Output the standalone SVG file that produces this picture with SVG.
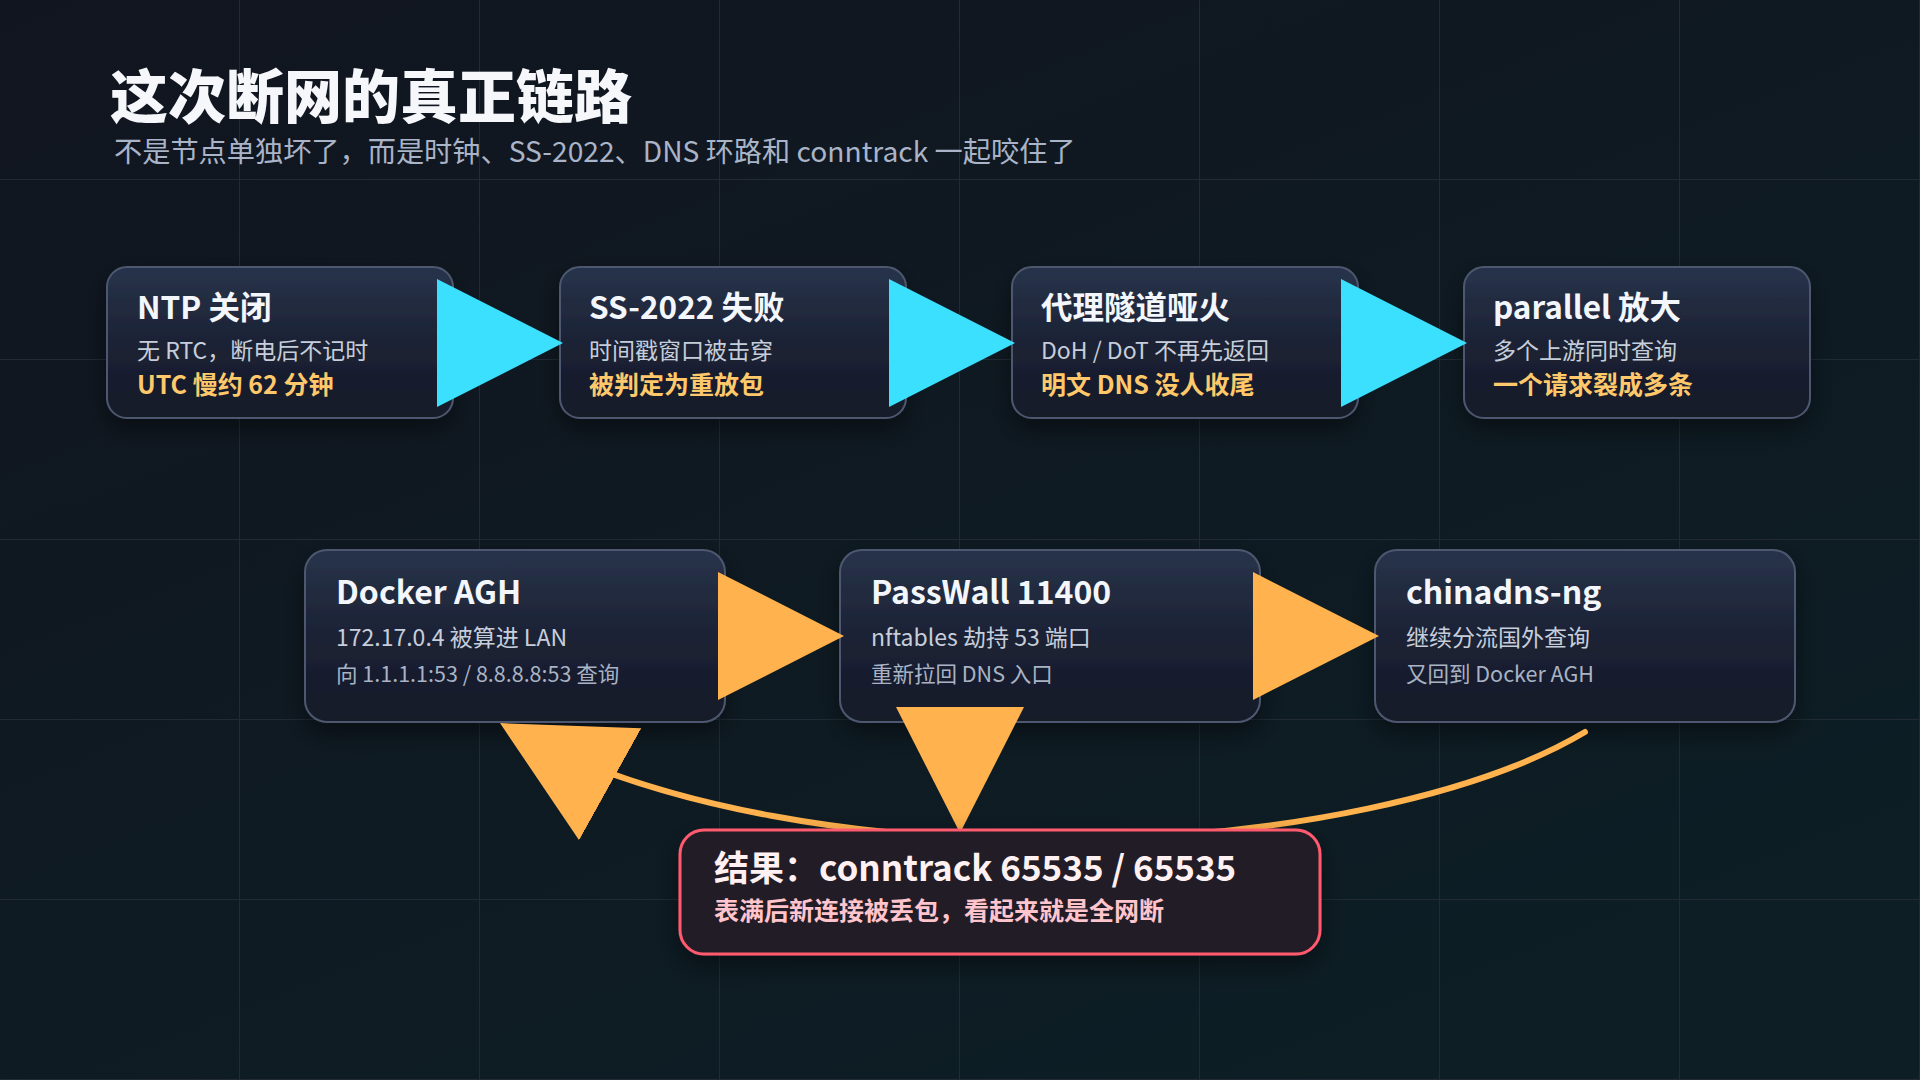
<svg xmlns="http://www.w3.org/2000/svg" width="1920" height="1080" viewBox="0 0 1920 1080">
<defs>
<linearGradient id="bg" x1="0" y1="0" x2="0.7" y2="1">
<stop offset="0" stop-color="#11151f"/>
<stop offset="1" stop-color="#0d1e25"/>
</linearGradient>
<linearGradient id="nodeFill" x1="0" y1="0" x2="0" y2="1">
<stop offset="0" stop-color="#28334a"/>
<stop offset="0.55" stop-color="#1b2133"/>
<stop offset="1" stop-color="#151a28"/>
</linearGradient>
<pattern id="grid" x="0" y="0" width="240" height="180" patternUnits="userSpaceOnUse">
<path d="M240,0 V180 M0,180 H240" fill="none" stroke="#212a36" stroke-width="2"/>
</pattern>
<filter id="shadow" x="-20%" y="-20%" width="140%" height="160%">
<feDropShadow dx="0" dy="10" stdDeviation="12" flood-color="#000" flood-opacity="0.45"/>
</filter>
<marker id="arrowCyan" viewBox="0 0 126 128" markerWidth="126" markerHeight="128" refX="118" refY="64" orient="auto" markerUnits="userSpaceOnUse">
<path d="M0,0 L126,64 L0,128 z" fill="#3ae0fd"/>
</marker>
<marker id="arrowOrange" viewBox="0 0 126 128" markerWidth="126" markerHeight="128" refX="118" refY="64" orient="auto" markerUnits="userSpaceOnUse">
<path d="M0,0 L126,64 L0,128 z" fill="#ffb24d"/>
</marker>
<style>
text { font-family: "Noto Sans CJK SC", "Noto Sans", sans-serif; }
.title { font-size: 58px; font-weight: 900; fill: #f5f7fb; }
.subtitle { font-size: 28.2px; fill: #a9b4c8; }
.box { fill: url(#nodeFill); stroke: #4d586f; stroke-width: 2; filter: url(#shadow); }
.h1 { font-size: 31.5px; font-weight: 700; fill: #f3f6fb; }
.h2 { font-size: 32px; font-weight: 700; fill: #f3f6fb; }
.t2 { font-size: 23px; fill: #c6cedb; }
.t3 { font-size: 25px; font-weight: 700; fill: #ffc96b; }
.t4 { font-size: 21.5px; fill: #a9b3c4; }
.cyan { stroke: #3ae0fd; stroke-width: 6; fill: none; marker-end: url(#arrowCyan); }
.orange { stroke: #ffb24d; stroke-width: 6; fill: none; marker-end: url(#arrowOrange); stroke-linecap: round; }
.result { fill: #231b25; stroke: #ff5a6e; stroke-width: 3; filter: url(#shadow); }
.rh { font-size: 35px; font-weight: 700; fill: #fff0f2; }
.rt { font-size: 25px; font-weight: 700; fill: #ffc4cc; }
</style>
</defs>
<rect width="1920" height="1080" fill="url(#bg)"/>
<rect width="1920" height="1080" fill="url(#grid)"/>

<g id="header">
<text class="title" x="110" y="118">这次断网的真正链路</text>
<text class="subtitle" x="114" y="162">不是节点单独坏了，而是时钟、SS-2022、DNS 环路和 conntrack 一起咬住了</text>
</g>

<g id="node-ntp">
<rect class="box" x="107" y="267" width="346" height="151" rx="20"/>
<text class="h1" x="137" y="319">NTP 关闭</text>
<text class="t2" x="137" y="359">无 RTC，断电后不记时</text>
<text class="t3" x="137" y="394">UTC 慢约 62 分钟</text>
</g>
<g id="node-ss2022">
<rect class="box" x="560" y="267" width="346" height="151" rx="20"/>
<text class="h1" x="589" y="319">SS-2022 失败</text>
<text class="t2" x="589" y="359">时间戳窗口被击穿</text>
<text class="t3" x="589" y="394">被判定为重放包</text>
</g>
<g id="node-tunnel">
<rect class="box" x="1012" y="267" width="346" height="151" rx="20"/>
<text class="h1" x="1041" y="319">代理隧道哑火</text>
<text class="t2" x="1041" y="359">DoH / DoT 不再先返回</text>
<text class="t3" x="1041" y="394">明文 DNS 没人收尾</text>
</g>
<g id="node-parallel">
<rect class="box" x="1464" y="267" width="346" height="151" rx="20"/>
<text class="h1" x="1493" y="319">parallel 放大</text>
<text class="t2" x="1493" y="359">多个上游同时查询</text>
<text class="t3" x="1493" y="394">一个请求裂成多条</text>
</g>

<g id="node-docker">
<rect class="box" x="305" y="550" width="420" height="172" rx="22"/>
<text class="h2" x="336" y="604">Docker AGH</text>
<text class="t2" x="336" y="646">172.17.0.4 被算进 LAN</text>
<text class="t4" x="336" y="682">向 1.1.1.1:53 / 8.8.8.8:53 查询</text>
</g>
<g id="node-passwall">
<rect class="box" x="840" y="550" width="420" height="172" rx="22"/>
<text class="h2" x="871" y="604">PassWall 11400</text>
<text class="t2" x="871" y="646">nftables 劫持 53 端口</text>
<text class="t4" x="871" y="682">重新拉回 DNS 入口</text>
</g>
<g id="node-chinadns">
<rect class="box" x="1375" y="550" width="420" height="172" rx="22"/>
<text class="h2" x="1406" y="604">chinadns-ng</text>
<text class="t2" x="1406" y="646">继续分流国外查询</text>
<text class="t4" x="1406" y="682">又回到 Docker AGH</text>
</g>

<g id="connectors">
<path class="cyan" d="M453,343 L555,343"/>
<path class="cyan" d="M906,343 L1007,343"/>
<path class="cyan" d="M1358,343 L1459,343"/>
<path class="orange" d="M725,636 L836,636"/>
<path class="orange" d="M1260,636 L1371,636"/>
<path class="orange" d="M960,722 L960,825"/>
<path class="orange" d="M1585,732 C1370,860 806,893 507,727"/>
</g>

<g id="node-result">
<rect class="result" x="680" y="830" width="640" height="124" rx="24"/>
<text class="rh" x="714" y="881">结果：conntrack 65535 / 65535</text>
<text class="rt" x="714" y="920">表满后新连接被丢包，看起来就是全网断</text>
</g>
</svg>
